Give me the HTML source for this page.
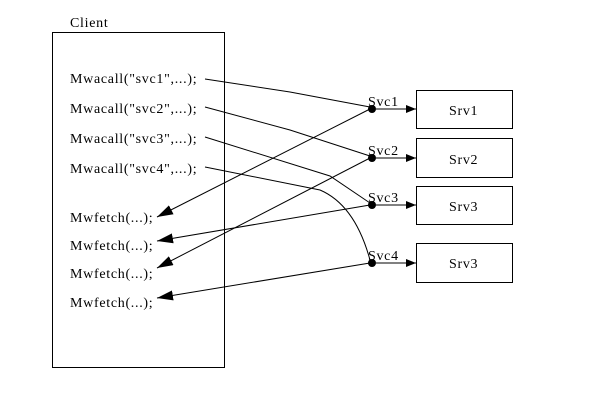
<!DOCTYPE html>
<html><head><meta charset="utf-8"><style>
body{margin:0;background:#fff}
svg text{font-family:"Liberation Serif",serif;font-size:14px;letter-spacing:0.7px;fill:#000}
</style></head><body>
<svg width="596" height="411" viewBox="0 0 596 411">
<defs><marker id="ah" markerWidth="10" markerHeight="8" refX="10" refY="4" orient="auto" markerUnits="userSpaceOnUse"><path d="M0,0 L10,4 L0,8 z" fill="#000"/></marker>
<marker id="ah2" markerWidth="16" markerHeight="10" refX="16" refY="5" orient="auto" markerUnits="userSpaceOnUse"><path d="M0,0 L16,5 L0,10 z" fill="#000"/></marker></defs>
<text x="70" y="27">Client</text>
<rect x="52.5" y="32.5" width="172" height="335" fill="none" stroke="#000"/>
<g>
<text x="70" y="83">Mwacall("svc1",...);</text>
<text x="70" y="113">Mwacall("svc2",...);</text>
<text x="70" y="143">Mwacall("svc3",...);</text>
<text x="70" y="173">Mwacall("svc4",...);</text>
</g>
<g>
<text x="70" y="222">Mwfetch(...);</text>
<text x="70" y="250">Mwfetch(...);</text>
<text x="70" y="278">Mwfetch(...);</text>
<text x="70" y="307">Mwfetch(...);</text>
</g>
<g stroke="#000" fill="none" stroke-width="1">
<path d="M205,79 L290,92 L370,107"/>
<path d="M205,107 L290,130 L370,156"/>
<path d="M205,137 L330,176 L370,203"/>
<path d="M205,167 L320,190 Q355,205 370,260"/>
</g>
<g stroke="#000" fill="none" stroke-width="1">
<path d="M370,109 L157,217" marker-end="url(#ah2)"/>
<path d="M370,205 L157,241" marker-end="url(#ah2)"/>
<path d="M370,158 L157,268" marker-end="url(#ah2)"/>
<path d="M370,263 L157,298" marker-end="url(#ah2)"/>
</g>
<g>
<circle cx="372" cy="109" r="4"/><circle cx="372" cy="158" r="4"/><circle cx="372" cy="205" r="4"/><circle cx="372" cy="263" r="4"/>
<text x="368" y="106">Svc1</text><text x="368" y="155">Svc2</text><text x="368" y="202">Svc3</text><text x="368" y="260">Svc4</text>
</g>
<g stroke="#000">
<line x1="376" y1="109" x2="416" y2="109" marker-end="url(#ah)"/>
<line x1="376" y1="158" x2="416" y2="158" marker-end="url(#ah)"/>
<line x1="376" y1="205" x2="416" y2="205" marker-end="url(#ah)"/>
<line x1="376" y1="263" x2="416" y2="263" marker-end="url(#ah)"/>
</g>
<g>
<rect x="416.5" y="90.5" width="96" height="38" fill="none" stroke="#000"/><text x="449" y="115">Srv1</text>
<rect x="416.5" y="138.5" width="96" height="39" fill="none" stroke="#000"/><text x="449" y="164">Srv2</text>
<rect x="416.5" y="186.5" width="96" height="38" fill="none" stroke="#000"/><text x="449" y="211">Srv3</text>
<rect x="416.5" y="243.5" width="96" height="39" fill="none" stroke="#000"/><text x="449" y="268">Srv3</text>
</g>
</svg>
</body></html>
